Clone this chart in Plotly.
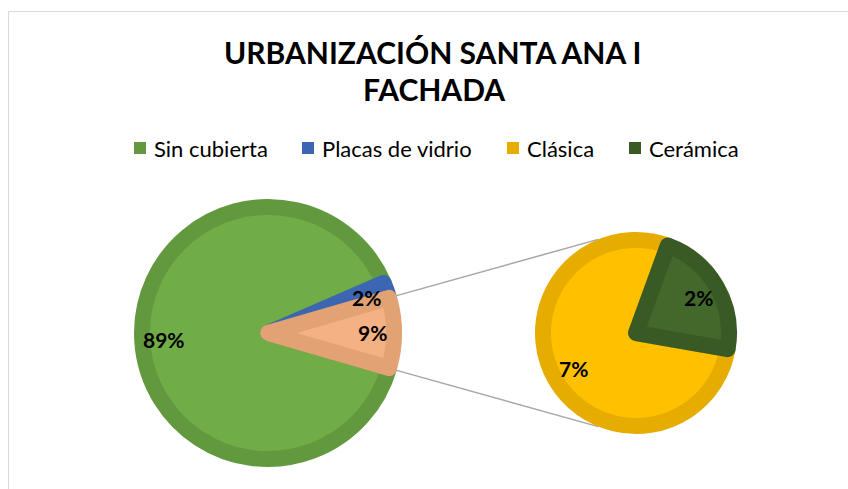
import math
import plotly.graph_objects as go

# ---------------- data ----------------
main_labels = ["Sin cubierta", "Placas de vidrio"]
main_values = [89, 2]
sub_labels = ["Clásica", "Cerámica"]
sub_values = [7, 2]
other_label = "Otros"
legend_labels = ["Sin cubierta", "Placas de vidrio", "Clásica", "Cerámica"]
title_lines = ["URBANIZACIÓN SANTA ANA I", "FACHADA"]

# ---------------- style ----------------
W, H = 848, 489
FONT = "Lato"
fill = {
    "Sin cubierta": "#70AD47",
    "Placas de vidrio": "#4472C4",
    "Otros": "#F4B183",
    "Clásica": "#FFC000",
    "Cerámica": "#43682B",
}
edge = {
    "Sin cubierta": "#63993E",
    "Placas de vidrio": "#3C66B1",
    "Otros": "#E2A274",
    "Clásica": "#E6AD00",
    "Cerámica": "#3A5A25",
}
BORDER = 16                      # slice outline width (px)
MAIN_C, MAIN_R = (268, 333), 134  # centre / outer radius in px
SUB_C, SUB_R = (636, 333), 101
MAIN_ROT_OTHER_CENTRE = 90        # "Otros" wedge faces 3 o'clock
SUB_ROTATION = 100
LABEL_K_MAIN, LABEL_K_SUB = 0.78, 0.71
CONNECT_ANGLES = (338, 202)       # where the connectors meet the small pie


def px(x, y):
    return x / W, 1 - y / H


def domain(c, r_vis):
    r = r_vis - BORDER / 2
    return dict(x=[(c[0] - r) / W, (c[0] + r) / W],
                y=[1 - (c[1] + r) / H, 1 - (c[1] - r) / H])


def mids(values, rotation):
    tot = sum(values)
    out, cum = [], rotation
    for v in values:
        span = 360 * v / tot
        out.append(cum + span / 2)
        cum += span
    return out


def polar(c, r, ang):
    a = math.radians(ang)
    return c[0] + r * math.sin(a), c[1] - r * math.cos(a)


def text_at(x, y, text, size, anchor="center"):
    xp, yp = px(x, y)
    return dict(x=xp, y=yp, xref="paper", yref="paper", text=text,
                showarrow=False, xanchor=anchor, yanchor="middle",
                font=dict(family=FONT, size=size, color="#000000"))


other_total = sum(sub_values)
p_labels = main_labels + [other_label]
p_values = main_values + [other_total]
p_total = sum(p_values)
# first slice starts so that the "Otros" wedge is centred on 3 o'clock
main_rotation = MAIN_ROT_OTHER_CENTRE + 180 * other_total / p_total

fig = go.Figure()
fig.add_trace(go.Pie(
    labels=p_labels, values=p_values, sort=False, direction="clockwise",
    rotation=main_rotation, domain=domain(MAIN_C, MAIN_R),
    marker=dict(colors=[fill[l] for l in p_labels],
                line=dict(color=[edge[l] for l in p_labels], width=BORDER)),
    textinfo="none", hoverinfo="label+value", showlegend=False,
))
fig.add_trace(go.Pie(
    labels=sub_labels, values=sub_values, sort=False, direction="clockwise",
    rotation=SUB_ROTATION, domain=domain(SUB_C, SUB_R),
    marker=dict(colors=[fill[l] for l in sub_labels],
                line=dict(color=[edge[l] for l in sub_labels], width=BORDER)),
    textinfo="none", hoverinfo="label+value", showlegend=False,
))

annotations = []
shapes = []

# value labels
for vals, c, r, k, rot in ((p_values, MAIN_C, MAIN_R, LABEL_K_MAIN, main_rotation),
                           (sub_values, SUB_C, SUB_R, LABEL_K_SUB, SUB_ROTATION)):
    for v, m in zip(vals, mids(vals, rot)):
        x, y = polar(c, k * r, m)
        annotations.append(text_at(x, y, f"<b>{v}%</b>", 21))

# connector lines from the "Otros" wedge to the secondary pie
span_other = 360 * other_total / p_total
a_top = MAIN_ROT_OTHER_CENTRE - span_other / 2
a_bot = MAIN_ROT_OTHER_CENTRE + span_other / 2
for a_main, a_sub in ((a_top, CONNECT_ANGLES[0]), (a_bot, CONNECT_ANGLES[1])):
    x0, y0 = px(*polar(MAIN_C, MAIN_R, a_main))
    x1, y1 = px(*polar(SUB_C, SUB_R, a_sub))
    shapes.append(dict(type="line", xref="paper", yref="paper",
                       x0=x0, y0=y0, x1=x1, y1=y1,
                       line=dict(color="#A6A6A6", width=1.5), layer="below"))

# chart frame
fx0, fy0 = px(8.5, 11.5)
shapes.append(dict(type="rect", xref="paper", yref="paper",
                   x0=fx0, y0=fy0, x1=1.05, y1=-0.05,
                   line=dict(color="#D9D9D9", width=1), layer="below"))

# title
for text, (tx, ty) in zip(title_lines, [(433, 52), (434, 89)]):
    annotations.append(text_at(tx, ty, f"<b>{text}</b>", 30))

# legend
legend_x = [134, 302, 507, 629]
LEG_Y, KEY = 148, 12
for lab, lx in zip(legend_labels, legend_x):
    kx0, ky0 = px(lx, LEG_Y - KEY / 2)
    kx1, ky1 = px(lx + KEY, LEG_Y + KEY / 2)
    shapes.append(dict(type="rect", xref="paper", yref="paper",
                       x0=kx0, y0=ky0, x1=kx1, y1=ky1,
                       fillcolor=edge[lab], line=dict(width=0)))
    annotations.append(text_at(lx + KEY + 6, LEG_Y, lab, 22, anchor="left"))

fig.update_layout(
    width=W, height=H, margin=dict(l=0, r=0, t=0, b=0),
    paper_bgcolor="#FFFFFF", plot_bgcolor="#FFFFFF",
    annotations=annotations, shapes=shapes, showlegend=False,
)

fig.write_html("out.html")
